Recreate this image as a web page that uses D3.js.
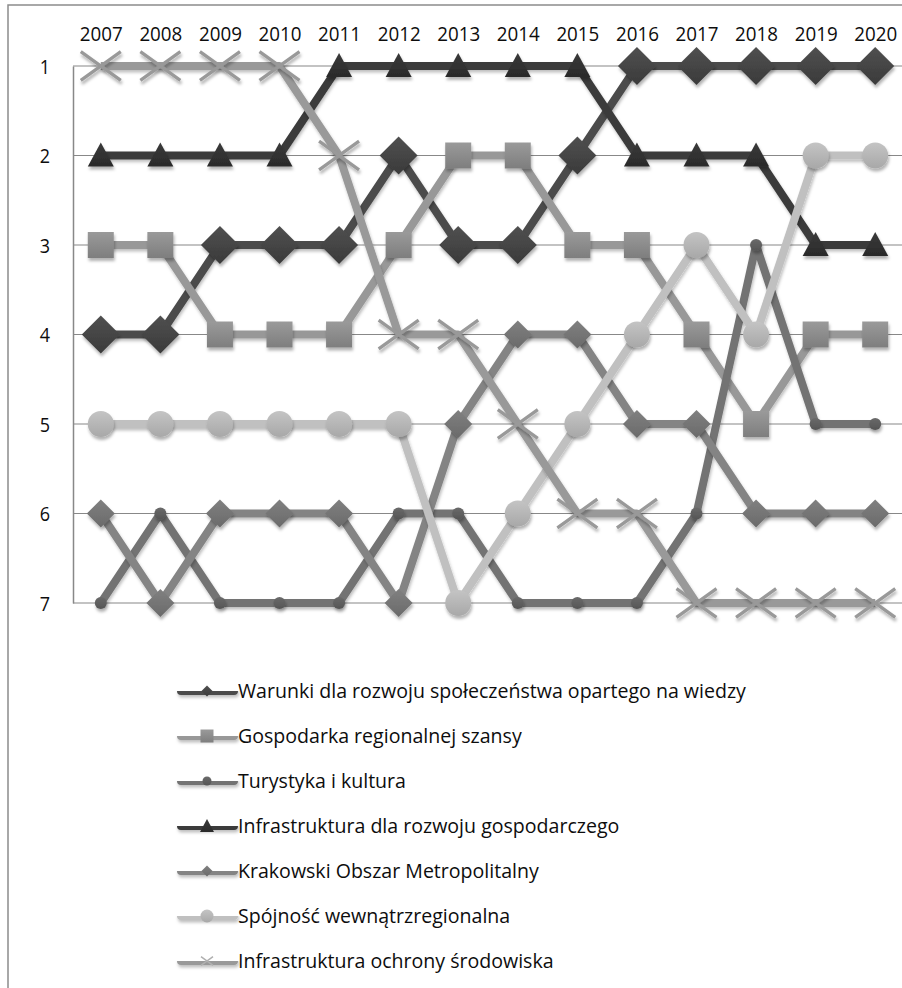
<!DOCTYPE html>
<html><head><meta charset="utf-8">
<script src="https://cdn.jsdelivr.net/npm/d3@7"></script>
<style>
html,body{margin:0;padding:0;background:#fff;}
svg{display:block;}
text{font-family:"Open Sans",Lato,sans-serif;fill:#0d0d0d;}
</style></head>
<body>
<svg id="chart" width="902" height="988"></svg>
<script>
const years = [2007,2008,2009,2010,2011,2012,2013,2014,2015,2016,2017,2018,2019,2020];
const rankTicks = [1,2,3,4,5,6,7];
const seriesNames = [
  "Warunki dla rozwoju społeczeństwa opartego na wiedzy",
  "Gospodarka regionalnej szansy",
  "Turystyka i kultura",
  "Infrastruktura dla rozwoju gospodarczego",
  "Krakowski Obszar Metropolitalny",
  "Spójność wewnątrzregionalna",
  "Infrastruktura ochrony środowiska"
];
const warunki      = [4,4,3,3,3,2,3,3,2,1,1,1,1,1];
const gospodarka   = [3,3,4,4,4,3,2,2,3,3,4,5,4,4];
const turystyka    = [7,6,7,7,7,6,6,7,7,7,6,3,5,5];
const infraGosp    = [2,2,2,2,1,1,1,1,1,2,2,2,3,3];
const krakowski    = [6,7,6,6,6,7,5,4,4,5,5,6,6,6];
const spojnosc     = [5,5,5,5,5,5,7,6,5,4,3,4,2,2];
const infraOchrony = [1,1,1,1,2,4,4,5,6,6,7,7,7,7];

const seriesValues = [warunki, gospodarka, turystyka, infraGosp, krakowski, spojnosc, infraOchrony];
const lineColors   = ["#4b4b4b","#989898","#737373","#3b3b3b","#848484","#c0c0c0","#999999"];
const markerTop    = ["#505050","#9a9a9a","#6a6a6a","#3a3a3a","#808080","#c4c4c4","#9c9c9c"];
const markerBottom = ["#3a3a3a","#7e7e7e","#555555","#2a2a2a","#6a6a6a","#a8a8a8","#9c9c9c"];
const markerTypes  = ["diamond","square","circle","triangle","diamond","circle","x"];
const markerSizes  = [19,13,6,13,14,13,20];
const legendMarkerSizes = [5.5,6.5,4.5,7,5.5,6.5,6];

const svg = d3.select("#chart");
const W = 902, H = 988;

svg.append("rect").attr("x",8).attr("y",5).attr("width",W+20).attr("height",H+20)
  .attr("fill","#fff").attr("stroke","#8c8c8c").attr("stroke-width",1.5);

const defs = svg.append("defs");
const f = defs.append("filter").attr("id","sh").attr("x","-50%").attr("y","-50%").attr("width","200%").attr("height","200%");
f.append("feDropShadow").attr("dx",1).attr("dy",3).attr("stdDeviation",1.8).attr("flood-color","#000").attr("flood-opacity",0.3);
const f2 = defs.append("filter").attr("id","shU").attr("filterUnits","userSpaceOnUse")
  .attr("x",0).attr("y",0).attr("width",W).attr("height",H);
f2.append("feDropShadow").attr("dx",1).attr("dy",2.5).attr("stdDeviation",1.5).attr("flood-color","#000").attr("flood-opacity",0.25);
seriesValues.forEach((s,i)=>{
  const g = defs.append("linearGradient").attr("id","g"+i).attr("x1",0).attr("y1",0).attr("x2",0).attr("y2",1);
  g.append("stop").attr("offset","0%").attr("stop-color",markerTop[i]);
  g.append("stop").attr("offset","100%").attr("stop-color",markerBottom[i]);
});

const x = d3.scaleLinear().domain([years[0]-0.5, years[years.length-1]+0.5]).range([71, 905]);
const y = d3.scaleLinear().domain([1,7]).range([66,603]);

svg.append("g").selectAll("line").data(rankTicks).join("line")
  .attr("x1",73).attr("x2",W).attr("y1",d=>y(d)).attr("y2",d=>y(d))
  .attr("stroke","#888").attr("stroke-width",1.2);

const yAxis = d3.axisLeft(y).tickValues(rankTicks).tickSize(0).tickPadding(0).tickFormat(d3.format("d"));
const ya = svg.append("g").attr("transform","translate(73,0)").call(yAxis);
ya.select(".domain").attr("stroke","#888").attr("stroke-width",1.5);
ya.selectAll("text").attr("x",0).attr("dy",0).attr("y",0)
  .attr("text-anchor","middle")
  .attr("transform","translate(-28,7) scale(1,1.1)")
  .style("font-size","18px").style("font-family","'Open Sans', sans-serif").attr("fill","#0d0d0d");

const xAxis = d3.axisTop(x).tickValues(years).tickSize(0).tickFormat(d3.format("d"));
const xa = svg.append("g").attr("transform","translate(0,41)").call(xAxis);
xa.select(".domain").remove();
xa.selectAll("text").attr("y",0).attr("dy",0).attr("transform","scale(1,1.1)")
  .style("font-size","18.8px").style("font-family","'Open Sans', sans-serif").attr("fill","#0d0d0d");

function markerPath(type, r){
  const p = d3.path();
  if(type==="diamond"){ p.moveTo(0,-r); p.lineTo(r,0); p.lineTo(0,r); p.lineTo(-r,0); p.closePath(); }
  else if(type==="square"){ p.rect(-r,-r,2*r,2*r); }
  else if(type==="circle"){ p.arc(0,0,r,0,2*Math.PI); }
  else if(type==="triangle"){ p.moveTo(0,-r); p.lineTo(r,r*0.85); p.lineTo(-r,r*0.85); p.closePath(); }
  else if(type==="x"){ const a=r*0.72; p.moveTo(-r,-a); p.lineTo(r,a); p.moveTo(-r,a); p.lineTo(r,-a); }
  return p.toString();
}

const line = d3.line().x((d,i)=>x(years[i])).y(d=>y(d));

seriesValues.forEach((vals,i)=>{
  const g = svg.append("g");
  g.append("path").datum(vals).attr("d",line).attr("fill","none")
    .attr("stroke",lineColors[i]).attr("stroke-width",8).attr("stroke-linejoin","round")
    .attr("filter","url(#shU)");
  g.selectAll(".m").data(vals).join("path").attr("class","m")
    .attr("transform",(d,j)=>`translate(${x(years[j])},${y(d)})`)
    .attr("d",markerPath(markerTypes[i],markerSizes[i]))
    .attr("fill",markerTypes[i]==="x"?"none":`url(#g${i})`)
    .attr("stroke",markerTypes[i]==="x"?lineColors[i]:"none")
    .attr("stroke-width",markerTypes[i]==="x"?3.2:0)
    .attr("filter","url(#sh)");
});

const legY = d3.scaleLinear().domain([0,6]).range([691,961]);
const leg = svg.append("g");
seriesNames.forEach((name,i)=>{
  const gy = legY(i);
  const g = leg.append("g").attr("transform",`translate(0,${gy})`);
  g.append("line").attr("x1",181).attr("x2",234).attr("y1",0).attr("y2",0)
    .attr("stroke",lineColors[i]).attr("stroke-width",8).attr("stroke-linecap","round")
    .attr("filter","url(#shU)");
  g.append("path").attr("transform","translate(207,0)")
    .attr("d",markerPath(markerTypes[i],legendMarkerSizes[i]))
    .attr("fill",markerTypes[i]==="x"?"none":`url(#g${i})`)
    .attr("stroke",markerTypes[i]==="x"?"#b0b0b0":"none").attr("stroke-width",1.5);
  g.append("text").attr("x",238).attr("y",7)
    .style("font-size","17.5px").text(name);
});
const first = leg.select("text").node();
const w0 = first.getComputedTextLength();
const fs = 17.5 * 508 / w0;
leg.selectAll("text").style("font-size", fs.toFixed(2)+"px").attr("y",6.5);
</script>
</body></html>
